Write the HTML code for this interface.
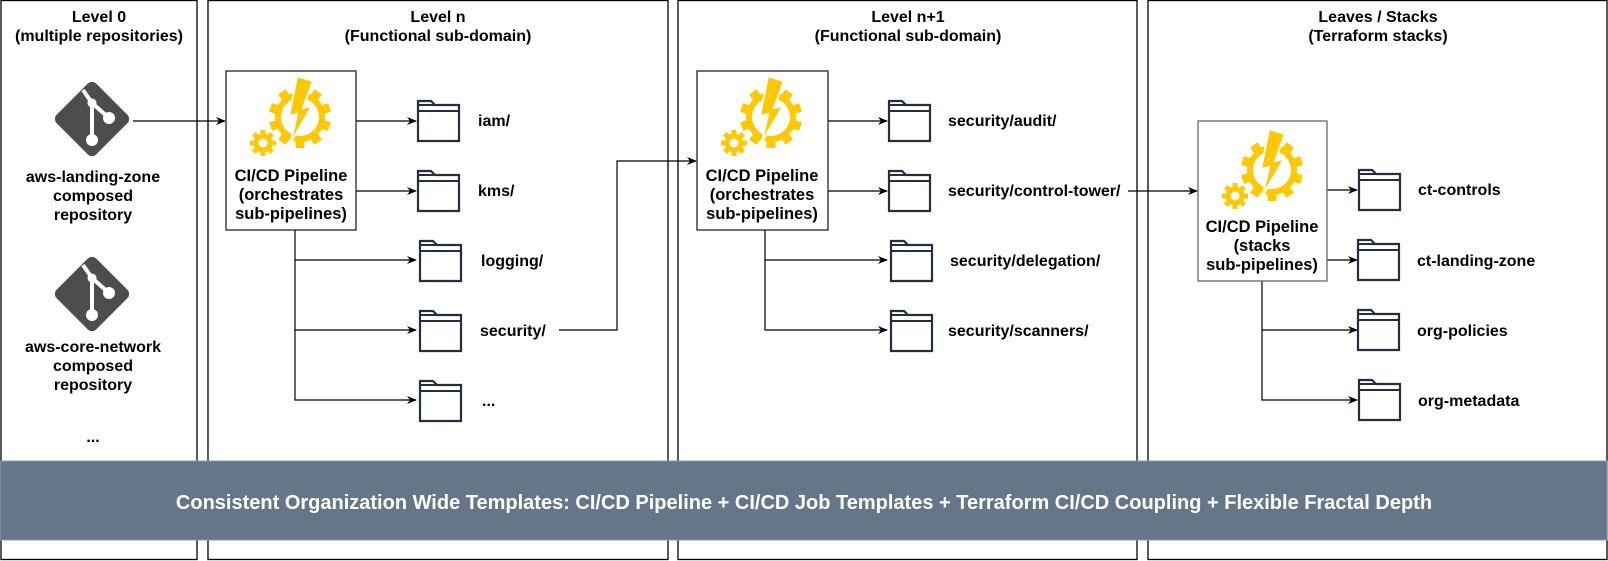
<!DOCTYPE html>
<html><head><meta charset="utf-8"><style>
html,body{margin:0;padding:0;background:#fff}
svg{display:block}
text{font-family:"Liberation Sans",Arial,sans-serif;font-weight:bold;fill:#000}
</style></head><body>
<svg width="1608" height="561" viewBox="0 0 1608 561" xmlns="http://www.w3.org/2000/svg">
<defs>
<marker id="a" markerWidth="10" markerHeight="8" refX="9" refY="4" orient="auto" markerUnits="userSpaceOnUse">
<path d="M0,0 L10,4 L0,8 L3,4 z" fill="#000"/></marker>
<g id="gear">
 <g fill="#FFC800">
  <rect x="-4.5" y="-31" width="9" height="10"/>
  <rect x="-4.5" y="-31" width="9" height="10" transform="rotate(36)"/>
  <rect x="-4.5" y="-31" width="9" height="10" transform="rotate(72)"/>
  <rect x="-4.5" y="-31" width="9" height="10" transform="rotate(108)"/>
  <rect x="-4.5" y="-31" width="9" height="10" transform="rotate(144)"/>
  <rect x="-4.5" y="-31" width="9" height="10" transform="rotate(180)"/>
  <rect x="-4.5" y="-31" width="9" height="10" transform="rotate(216)"/>
  <rect x="-4.5" y="-31" width="9" height="10" transform="rotate(252)"/>
  <rect x="-4.5" y="-31" width="9" height="10" transform="rotate(288)"/>
  <rect x="-4.5" y="-31" width="9" height="10" transform="rotate(324)"/>
  <circle r="25"/>
 </g>
 <circle r="19" fill="#fff"/>
 <path d="M-3,-41 L13,-36 L3,-9 L12,-11 L-9,25 L-3,-3 L-11,-1 z" fill="#FFC800" stroke="#fff" stroke-width="2"/>
 <g transform="translate(-37,26)" fill="#FFC800">
  <rect x="-2.5" y="-13" width="5" height="6"/>
  <rect x="-2.5" y="-13" width="5" height="6" transform="rotate(45)"/>
  <rect x="-2.5" y="-13" width="5" height="6" transform="rotate(90)"/>
  <rect x="-2.5" y="-13" width="5" height="6" transform="rotate(135)"/>
  <rect x="-2.5" y="-13" width="5" height="6" transform="rotate(180)"/>
  <rect x="-2.5" y="-13" width="5" height="6" transform="rotate(225)"/>
  <rect x="-2.5" y="-13" width="5" height="6" transform="rotate(270)"/>
  <rect x="-2.5" y="-13" width="5" height="6" transform="rotate(315)"/>
  <circle r="9.5"/>
  <circle r="4.5" fill="#fff"/>
 </g>
</g>
<g id="folder">
 <path d="M0,0 H13 L17,4 H41 V40 H0 Z" fill="#fff" stroke="#232F3E" stroke-width="2.2"/>
 <path d="M0,4 H41 M0,10 H41" fill="none" stroke="#232F3E" stroke-width="2"/>
</g>
<g id="git">
 <rect x="-28" y="-28" width="56" height="56" rx="6" fill="#4D4D4D" transform="rotate(45)"/>
 <path d="M-9,-29 L0,-16 L17,-1 M0,-16 V21" stroke="#fff" stroke-width="4" fill="none"/>
 <circle cx="0" cy="-16" r="4.5" fill="#fff"/>
 <circle cx="17" cy="-1" r="6" fill="#fff"/>
 <circle cx="0" cy="21" r="6" fill="#fff"/>
</g>
</defs>

<g fill="none" stroke="#000" stroke-width="1.3">
<rect x="1" y="0.5" width="196" height="559"/>
<rect x="208" y="0.5" width="460" height="559"/>
<rect x="678" y="0.5" width="459" height="559"/>
<rect x="1148" y="0.5" width="459" height="559"/>
</g>
<g font-size="16" text-anchor="middle">
<text x="99" y="22">Level 0</text><text x="99" y="41">(multiple repositories)</text>
<text x="438" y="22">Level n</text><text x="438" y="41">(Functional sub-domain)</text>
<text x="908" y="22">Level n+1</text><text x="908" y="41">(Functional sub-domain)</text>
<text x="1378" y="22">Leaves / Stacks</text><text x="1378" y="41">(Terraform stacks)</text>
</g>

<use href="#git" x="92" y="119"/>
<use href="#git" x="92" y="294"/>
<g font-size="16" text-anchor="middle">
<text x="93" y="182">aws-landing-zone</text><text x="93" y="201">composed</text><text x="93" y="220">repository</text>
<text x="93" y="352">aws-core-network</text><text x="93" y="371">composed</text><text x="93" y="390">repository</text>
<text x="93" y="442">...</text>
</g>

<g fill="none" stroke="#000" stroke-width="1.2" marker-end="url(#a)">
<path d="M133,121 H225"/>
<path d="M356,121 H416"/>
<path d="M356,191 H416"/>
<path d="M295,230 V260 H416"/>
<path d="M295,260 V330 H416"/>
<path d="M295,330 V400 H416"/>
<path d="M559,330 H617 V161 H696"/>
<path d="M828,121 H887"/>
<path d="M828,191 H887"/>
<path d="M765,230 V260 H887"/>
<path d="M765,260 V330 H887"/>
<path d="M1128,191 H1197"/>
<path d="M1327,190 H1357"/>
<path d="M1327,260 H1357"/>
<path d="M1262,281 V330 H1357"/>
<path d="M1262,330 V400 H1357"/>
</g>

<rect x="226" y="71" width="130" height="159" fill="#fff" stroke="#222" stroke-width="1.3"/>
<rect x="697" y="71" width="131" height="159" fill="#fff" stroke="#222" stroke-width="1.3"/>
<rect x="1198" y="121" width="129" height="160" fill="#fff" stroke="#666" stroke-width="1.3"/>
<use href="#gear" x="300" y="117"/>
<use href="#gear" x="771" y="117"/>
<use href="#gear" x="1272" y="170"/>
<g font-size="16.5" text-anchor="middle">
<text x="291" y="181">CI/CD Pipeline</text><text x="291" y="200">(orchestrates</text><text x="291" y="219">sub-pipelines)</text>
<text x="762" y="181">CI/CD Pipeline</text><text x="762" y="200">(orchestrates</text><text x="762" y="219">sub-pipelines)</text>
<text x="1262" y="232">CI/CD Pipeline</text><text x="1262" y="251">(stacks</text><text x="1262" y="270">sub-pipelines)</text>
</g>

<use href="#folder" x="418" y="101"/>
<use href="#folder" x="418" y="171"/>
<use href="#folder" x="420" y="241"/>
<use href="#folder" x="420" y="311"/>
<use href="#folder" x="420" y="381"/>
<use href="#folder" x="889" y="101"/>
<use href="#folder" x="889" y="171"/>
<use href="#folder" x="891" y="241"/>
<use href="#folder" x="891" y="311"/>
<use href="#folder" x="1359" y="170"/>
<use href="#folder" x="1358" y="240"/>
<use href="#folder" x="1358" y="310"/>
<use href="#folder" x="1359" y="380"/>
<g font-size="16">
<text x="478" y="126">iam/</text>
<text x="478" y="196">kms/</text>
<text x="481" y="266">logging/</text>
<text x="480" y="336">security/</text>
<text x="482" y="406">...</text>
<text x="948" y="126">security/audit/</text>
<text x="948" y="196">security/control-tower/</text>
<text x="950" y="266">security/delegation/</text>
<text x="948" y="336">security/scanners/</text>
<text x="1418" y="195">ct-controls</text>
<text x="1417" y="266">ct-landing-zone</text>
<text x="1417" y="336">org-policies</text>
<text x="1418" y="406">org-metadata</text>
</g>

<rect x="0" y="461" width="1607" height="79" fill="#647687" stroke="#8a99a8" stroke-width="1"/>
<text x="804" y="509" font-size="20" text-anchor="middle" style="fill:#fff">Consistent Organization Wide Templates: CI/CD Pipeline + CI/CD Job Templates + Terraform CI/CD Coupling + Flexible Fractal Depth</text>
</svg>
</body></html>
